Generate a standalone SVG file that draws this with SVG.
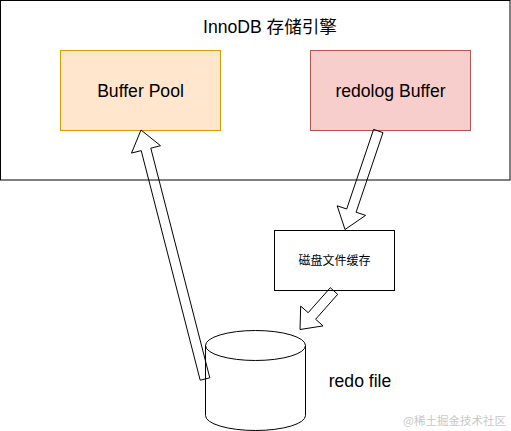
<svg xmlns="http://www.w3.org/2000/svg" width="511" height="431" viewBox="0 0 511 431">
<style>
.t{font-family:"Liberation Sans",Arial,"Noto Sans CJK SC",sans-serif;fill:#000;text-anchor:middle}
.big{font-size:17.6px}
.cjk{font-family:"Liberation Sans","Noto Sans CJK SC",sans-serif}
.arr{fill:none;stroke:#000;stroke-width:1;stroke-linejoin:miter}
</style>
<rect width="511" height="431" fill="#fff"/>
<g id="engine">
<rect x="0.5" y="0.5" width="509.5" height="179.5" fill="#fff" stroke="#000"/>
<text class="t big" x="270" y="32.5">InnoDB 存储引擎</text>
</g>
<g id="bufferPool">
<rect x="60.5" y="50.5" width="160" height="80" fill="#ffe6cc" stroke="#d79b00"/>
<text class="t big" x="140.5" y="96.5">Buffer Pool</text>
</g>
<g id="redologBuffer">
<rect x="310.5" y="50.5" width="160" height="80" fill="#f8cecc" stroke="#b85450"/>
<text class="t big" x="390.5" y="96.5">redolog Buffer</text>
</g>
<g id="diskCache">
<rect x="274.5" y="230.5" width="120" height="60" fill="#fff" stroke="#000"/>
<text class="t" x="334.5" y="264.5" font-size="12">磁盘文件缓存</text>
</g>
<g id="redoFile">
<path d="M205.5 345.5 A50 15 0 0 1 305.5 345.5 L305.5 415.5 A50 15 0 0 1 205.5 415.5 Z" fill="#fff" stroke="#000"/>
<path d="M205.5 345.5 A50 15 0 0 0 305.5 345.5" fill="none" stroke="#000"/>
<text class="t big" x="360" y="387">redo file</text>
</g>
<g id="connectors">
<polygon class="arr" points="200.2,380.2 141.2,150.6 131.5,153.1 141,130 160.5,145.7 150.8,148.2 209.8,377.8"/>
<polygon class="arr" points="373.6,129.4 346.7,209 337.2,205.8 345,229.5 365.6,215.4 356.1,212.2 383,132.6"/>
<polygon class="arr" points="330.3,287.7 308.2,312.7 300.7,306.1 300,329.5 323.1,325.9 315.6,319.3 337.7,294.3"/>
</g>
<text x="506" y="425" font-family="'Noto Sans CJK SC',sans-serif" font-size="11.5" fill="#c8c8c8" text-anchor="end">@稀土掘金技术社区</text>
</svg>
